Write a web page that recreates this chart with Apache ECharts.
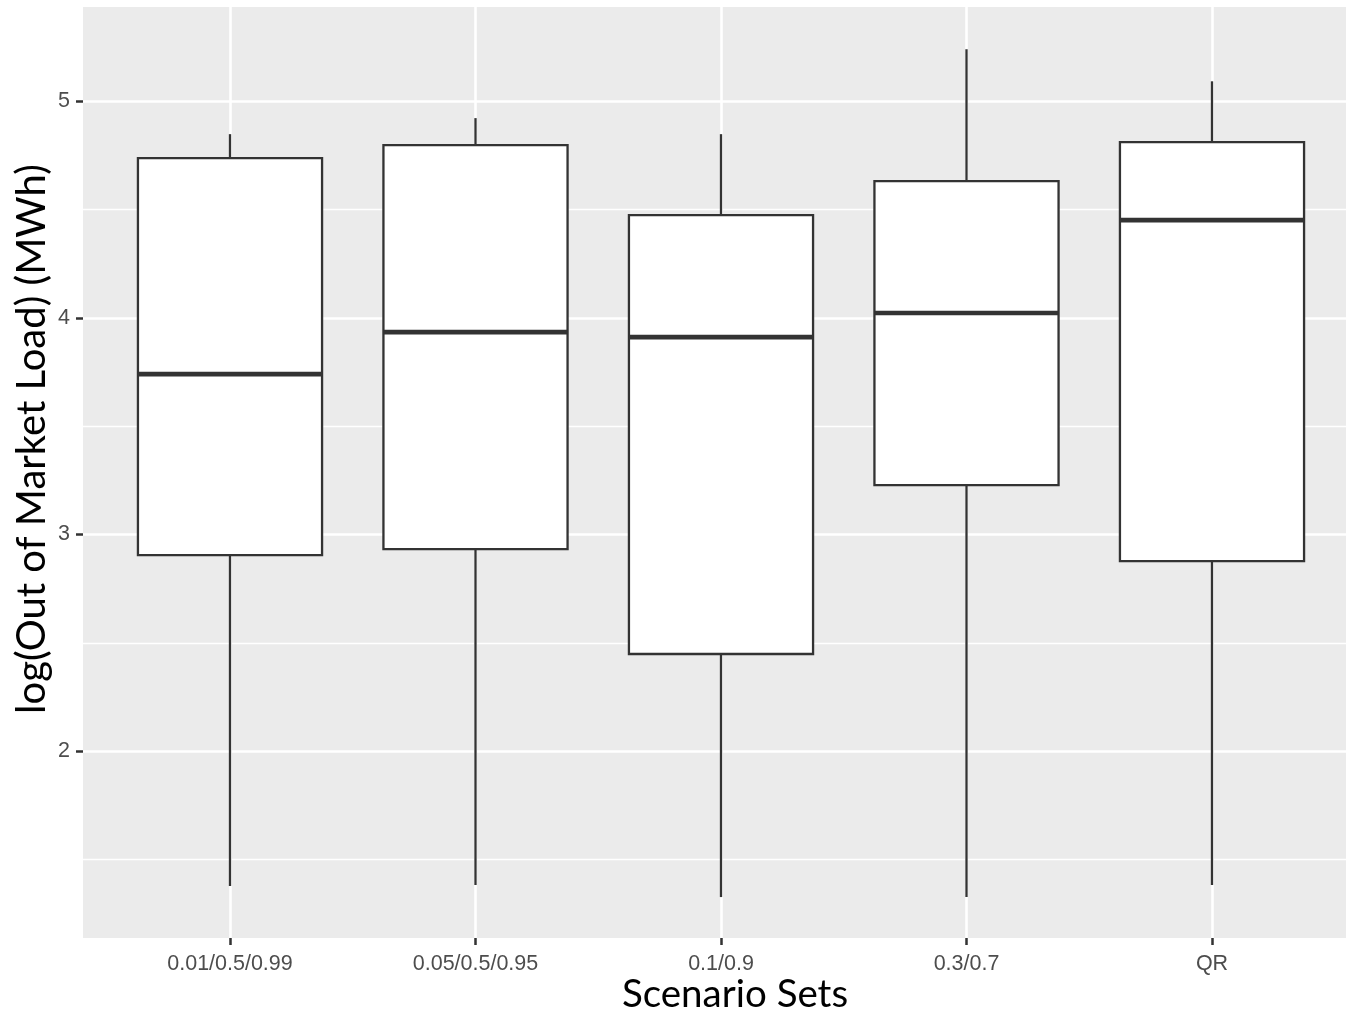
<!DOCTYPE html>
<html>
<head>
<meta charset="utf-8">
<script src="https://cdn.jsdelivr.net/npm/echarts@6/dist/echarts.min.js"></script>
<style>
  html, body { margin: 0; padding: 0; background: #ffffff; }
  #chart { width: 1346px; height: 1013px; }
</style>
</head>
<body>
<div id="chart"></div>
<script>
// Scenario sets on the x axis
const categories = ['0.01/0.5/0.99', '0.05/0.5/0.95', '0.1/0.9', '0.3/0.7', 'QR'];

// Five-number summaries per scenario set (log MWh)
const whiskerLow  = [1.377, 1.382, 1.326, 1.326, 1.382];
const lowerQuart  = [2.905, 2.932, 2.448, 3.228, 2.877];
const medians     = [3.740, 3.934, 3.911, 4.022, 4.451];
const upperQuart  = [4.737, 4.797, 4.474, 4.631, 4.811];
const whiskerHigh = [4.848, 4.922, 4.848, 5.240, 5.092];

// Y axis ticks and gridlines
const yMajorTicks = [2, 3, 4, 5];
const yMinorTicks = [1.5, 2.5, 3.5, 4.5];
const yMin = 1.137;
const yMax = 5.435;

const boxData = categories.map((c, i) => [i, whiskerLow[i], lowerQuart[i], medians[i], upperQuart[i], whiskerHigh[i]]);

const INK = '#333333';
const LABEL = '#4D4D4D';
const PANEL = '#EBEBEB';

function renderBox(params, api) {
  const i = api.value(0);
  const half = api.size([1, 0])[0] * 0.375;
  const pLo = api.coord([i, api.value(1)]);
  const pQ1 = api.coord([i, api.value(2)]);
  const pMed = api.coord([i, api.value(3)]);
  const pQ3 = api.coord([i, api.value(4)]);
  const pHi = api.coord([i, api.value(5)]);
  const x = pMed[0];
  const line = { stroke: INK, lineWidth: 2.3 };
  return {
    type: 'group',
    children: [
      { type: 'line', shape: { x1: x, y1: pLo[1], x2: x, y2: pQ1[1] }, style: line },
      { type: 'line', shape: { x1: x, y1: pQ3[1], x2: x, y2: pHi[1] }, style: line },
      { type: 'rect', shape: { x: x - half, y: pQ3[1], width: 2 * half, height: pQ1[1] - pQ3[1] },
        style: { fill: '#ffffff', stroke: INK, lineWidth: 2.3 } },
      { type: 'line', shape: { x1: x - half, y1: pMed[1], x2: x + half, y2: pMed[1] },
        style: { stroke: INK, lineWidth: 4.6 } }
    ]
  };
}

const chart = echarts.init(document.getElementById('chart'), null, { renderer: 'canvas' });

chart.setOption({
  animation: false,
  backgroundColor: '#ffffff',
  grid: [
    { // panel with y scale
      left: 83, top: 7, bottom: 75, width: 1300,
      show: true, backgroundColor: PANEL, borderWidth: 0,
      containLabel: false, outerBoundsMode: 'none'
    },
    { // category placement
      left: 107.25, top: 7, bottom: 75, width: 1227.5,
      show: false, containLabel: false, outerBoundsMode: 'none'
    }
  ],
  xAxis: [
    { gridIndex: 0, type: 'value', min: 0, max: 1, show: false },
    {
      gridIndex: 1, type: 'category', data: categories, boundaryGap: true,
      axisLine: { show: false },
      axisTick: { show: true, alignWithLabel: true, length: 7, lineStyle: { color: INK, width: 2.5 } },
      axisLabel: { color: LABEL, fontSize: 21.5, fontFamily: 'Liberation Sans, Arial, sans-serif', margin: 15 },
      splitLine: { show: true, alignWithLabel: true, lineStyle: { color: '#ffffff', width: 2.6 } }
    }
  ],
  yAxis: [
    {
      gridIndex: 0, type: 'value', min: yMin, max: yMax,
      axisLine: { show: false },
      axisTick: { show: true, length: 7, customValues: yMajorTicks, lineStyle: { color: INK, width: 2.5 } },
      axisLabel: { color: LABEL, fontSize: 21.5, fontFamily: 'Liberation Sans, Arial, sans-serif', margin: 13,
                   customValues: yMajorTicks, showMinLabel: true, showMaxLabel: true },
      splitLine: { show: true, lineStyle: { color: '#ffffff', width: 2.6 } }
    },
    {
      gridIndex: 0, type: 'value', min: yMin, max: yMax, position: 'left',
      axisLine: { show: false },
      axisTick: { show: false, customValues: yMinorTicks },
      axisLabel: { show: false, customValues: yMinorTicks },
      splitLine: { show: true, lineStyle: { color: '#ffffff', width: 1.3 } }
    },
    { gridIndex: 1, type: 'value', min: yMin, max: yMax, show: false, splitLine: { show: false } }
  ],
  series: [{
    type: 'custom',
    xAxisIndex: 1,
    yAxisIndex: 2,
    renderItem: renderBox,
    encode: { x: 0, y: [1, 2, 3, 4, 5] },
    data: boxData,
    z: 5
  }],
  graphic: [
    {
      type: 'text', x: 735, y: 995,
      style: { text: 'Scenario Sets', font: '38.5px Lato, "Open Sans", sans-serif', fill: '#000000',
               align: 'center', verticalAlign: 'middle' }
    },
    {
      type: 'text', x: 32, y: 439, rotation: Math.PI / 2,
      style: { text: 'log(Out of Market Load) (MWh)', font: '40px Lato, "Open Sans", sans-serif', fill: '#000000',
               align: 'center', verticalAlign: 'middle' }
    }
  ]
});
</script>
</body>
</html>
